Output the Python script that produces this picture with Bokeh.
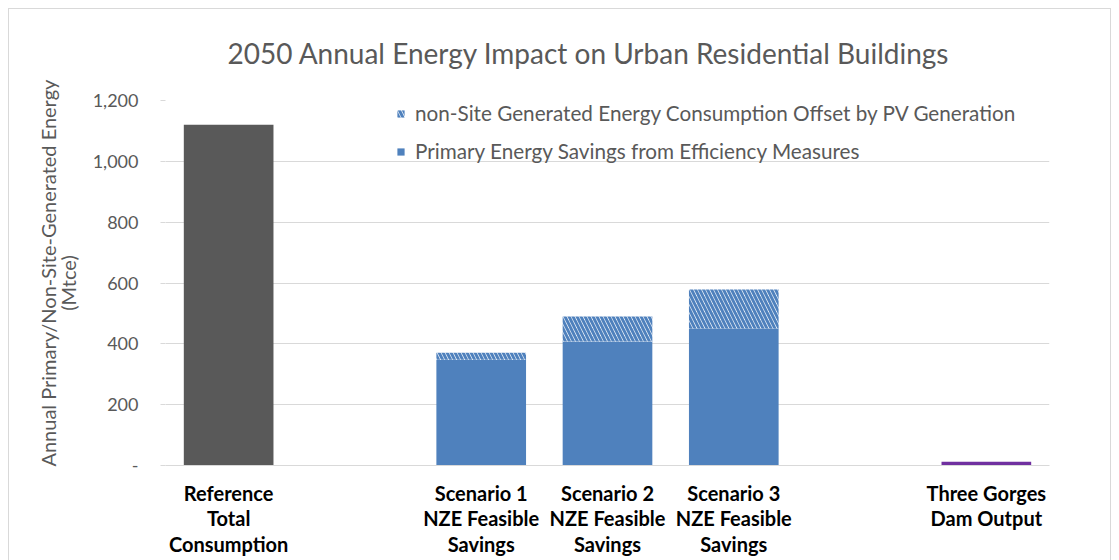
from bokeh.plotting import figure
from bokeh.models import FactorRange, Range1d, NumeralTickFormatter, FixedTicker, Legend, LegendItem, Title
from bokeh.embed import file_html
from bokeh.resources import INLINE

# ---- data ----
categories = ["Reference\nTotal\nConsumption", " ",
              "Scenario 1\nNZE Feasible\nSavings",
              "Scenario 2\nNZE Feasible\nSavings",
              "Scenario 3\nNZE Feasible\nSavings", "  ",
              "Three Gorges\nDam Output"]
reference_cat = [categories[0]]
scenario_cats = categories[2:5]
three_gorges_cat = [categories[6]]
reference_total = [1120]
efficiency_savings = [348, 408, 450]
pv_offset = [23, 82, 129]
three_gorges_output = [12]
y_ticks = [0, 200, 400, 600, 800, 1000, 1200]

FONT = "Lato"
GREY = "#595959"
BORDER = "linear-gradient(#D9D9D9, #D9D9D9)"

p = figure(width=1103, height=560, x_range=FactorRange(*categories), y_range=Range1d(0, 1200),
           output_backend="svg", toolbar_location=None,
           min_border_left=157, min_border_right=62, min_border_top=100, min_border_bottom=95)
p.margin = (0, 0, 0, 8)
p.border_fill_color = None
p.styles = {
    "background": (f"{BORDER} left 0 top 8px / 100% 1px no-repeat, "
                   f"{BORDER} left 0 top 8px / 1px 100% no-repeat, "
                   f"{BORDER} right 0 top 8px / 1px 100% no-repeat, white"),
}

p.title = Title(text="2050 Annual Energy Impact on Urban Residential Buildings",
                align="left", offset=62, standoff=62, text_font=FONT, text_font_size="28px",
                text_font_style="normal", text_color=GREY)

p.outline_line_color = None
p.xgrid.grid_line_color = None
p.ygrid.grid_line_color = "#D9D9D9"
p.ygrid.grid_line_width = 1

# y axis
p.yaxis.ticker = FixedTicker(ticks=y_ticks)
p.yaxis.formatter = NumeralTickFormatter(format="0,0")
p.yaxis.major_label_overrides = {0: "-"}
p.yaxis.axis_line_color = None
p.yaxis.major_tick_line_color = "#D9D9D9"
p.yaxis.major_tick_out = 5
p.yaxis.major_tick_in = 0
p.yaxis.minor_tick_line_color = None
p.yaxis.major_label_text_font = FONT
p.yaxis.major_label_text_font_size = "18px"
p.yaxis.major_label_text_color = GREY
p.yaxis.major_label_standoff = 22
p.yaxis.axis_label = "\u00a0\u00a0\u00a0\u00a0Annual Primary/Non-Site-Generated Energy\n(Mtce)"
p.yaxis.axis_label_text_font = FONT
p.yaxis.axis_label_text_font_size = "20px"
p.yaxis.axis_label_text_font_style = "normal"
p.yaxis.axis_label_text_color = GREY
p.yaxis.axis_label_text_line_height = 0.83
p.yaxis.axis_label_standoff = 10

# x axis
p.xaxis.axis_line_color = "#D9D9D9"
p.xaxis.major_tick_line_color = None
p.xaxis.minor_tick_line_color = None
p.xaxis.major_label_text_font = FONT
p.xaxis.major_label_text_font_size = "20px"
p.xaxis.major_label_text_font_style = "bold"
p.xaxis.major_label_text_color = "#000000"
p.xaxis.major_label_text_line_height = 1.08
p.xaxis.major_label_standoff = 9

W = 0.71
ref = p.vbar(x=reference_cat, top=reference_total, width=W, fill_color="#595959", line_color=None)
solid = p.vbar(x=scenario_cats, bottom=0, top=efficiency_savings, width=W,
               fill_color="#4F81BD", line_color=None)
totals = [e + o for e, o in zip(efficiency_savings, pv_offset)]
hatched = p.vbar(x=scenario_cats, bottom=efficiency_savings, top=totals, width=W,
                 fill_color="white", line_color=None, hatch_pattern="\\",
                 hatch_color="#4F81BD", hatch_weight=3, hatch_scale=8)
tg = p.vbar(x=three_gorges_cat, top=three_gorges_output, width=W, fill_color="#7030A0", line_color=None)

legend = Legend(items=[
    LegendItem(label="non-Site Generated Energy Consumption Offset by PV Generation", renderers=[hatched]),
    LegendItem(label="Primary Energy Savings from Efficiency Measures", renderers=[solid]),
], location=(231, 302))
legend.background_fill_alpha = 0
legend.border_line_color = None
legend.label_text_font = FONT
legend.label_text_font_size = "20.7px"
legend.label_text_color = GREY
legend.glyph_width = 9
legend.glyph_height = 9
legend.label_standoff = 10
legend.spacing = 14
legend.padding = 0
legend.margin = 0
legend.label_height = 24
p.add_layout(legend)

open("out.html", "w").write(file_html(p, INLINE))
